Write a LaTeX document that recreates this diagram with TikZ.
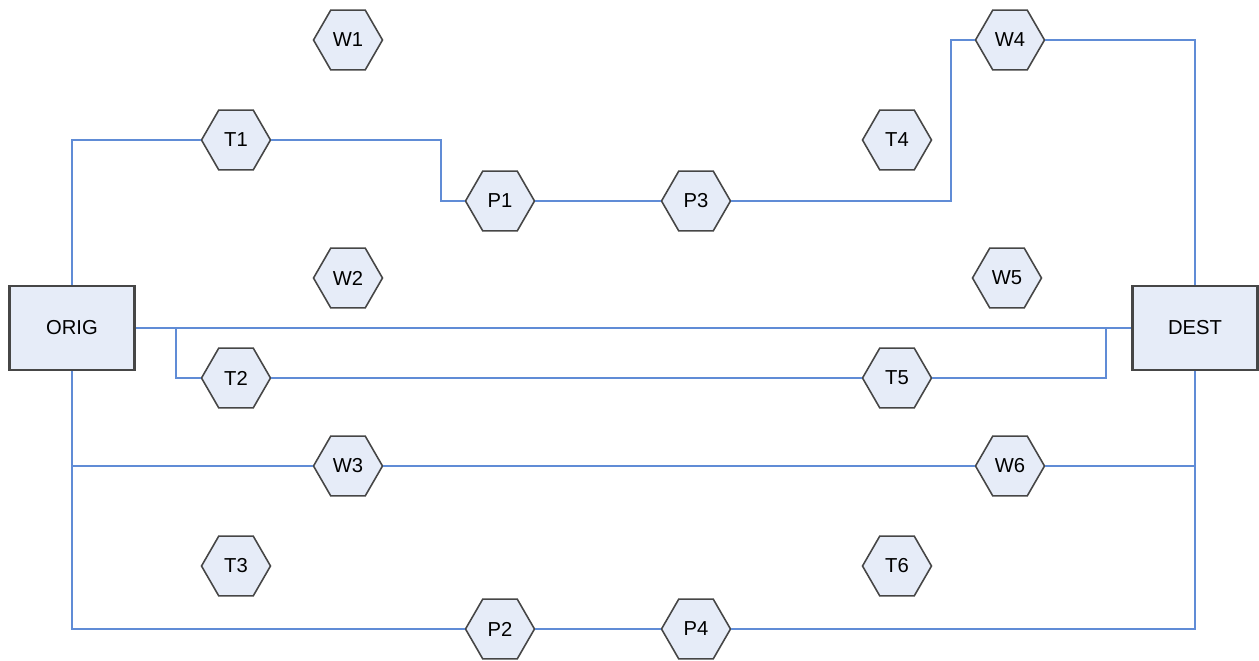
\documentclass[tikz,border=0pt]{standalone}
\usepackage{fontspec}
\setmainfont{Liberation Sans}
\usetikzlibrary{shapes.geometric}
\definecolor{boxfill}{RGB}{230,236,248}
\definecolor{linkblue}{RGB}{96,140,214}
\definecolor{rimgray}{RGB}{70,70,70}

\tikzset{
  site/.style={regular polygon, regular polygon sides=6,
    minimum size=1.38cm, inner sep=0pt, draw=rimgray, line width=0.9pt, fill=boxfill,
    font=\fontsize{11.5}{13}\selectfont},
  endbox/.style={rectangle, minimum width=2.5cm, minimum height=1.68cm, draw=rimgray,
    line width=1.4pt, fill=boxfill, font=\fontsize{11.5}{13}\selectfont},
  link/.style={draw=linkblue, line width=1.1pt}
}

\begin{document}
\begin{tikzpicture}[x=0.02cm,y=-0.02cm]
\useasboundingbox (0,0) rectangle (1259,660);

\node[endbox] (ORIG) at (72,328) {ORIG};
\node[endbox] (DEST) at (1195,328) {DEST};

\node[site] (W1) at (348,40) {W1};
\node[site] (T1) at (236,140) {T1};
\node[site] (P1) at (500,201) {P1};
\node[site] (P3) at (696,201) {P3};
\node[site] (T4) at (897,140) {T4};
\node[site] (W4) at (1010,40) {W4};
\node[site] (W2) at (348,278) {W2};
\node[site] (W5) at (1007,278) {W5};
\node[site] (T2) at (236,378) {T2};
\node[site] (T5) at (897,378) {T5};
\node[site] (W3) at (348,466) {W3};
\node[site] (W6) at (1010,466) {W6};
\node[site] (T3) at (236,566) {T3};
\node[site] (T6) at (897,566) {T6};
\node[site] (P2) at (500,629) {P2};
\node[site] (P4) at (696,629) {P4};

\coordinate (j1) at (176,328);
\coordinate (j2) at (1106,328);

% upper route
\draw[link] (ORIG.north) |- (T1.west);
\draw[link] (T1.east) -- ++(170,0) |- (P1.west);
\draw[link] (P1.east) -- (P3.west);
\draw[link] (P3.east) -- ++(220,0) |- (W4.west);
\draw[link] (W4.east) -| (DEST.north);
% direct and middle routes
\draw[link] (ORIG.east) -- (DEST.west);
\draw[link] (j1) |- (T2.west);
\draw[link] (T2.east) -- (T5.west);
\draw[link] (T5.east) -| (j2);
% lower routes
\draw[link] (ORIG.south) |- (W3.west);
\draw[link] (W3.east) -- (W6.west);
\draw[link] (W6.east) -| (DEST.south);
\draw[link] (ORIG.south) |- (P2.west);
\draw[link] (P2.east) -- (P4.west);
\draw[link] (P4.east) -| (DEST.south);
\end{tikzpicture}
\end{document}
